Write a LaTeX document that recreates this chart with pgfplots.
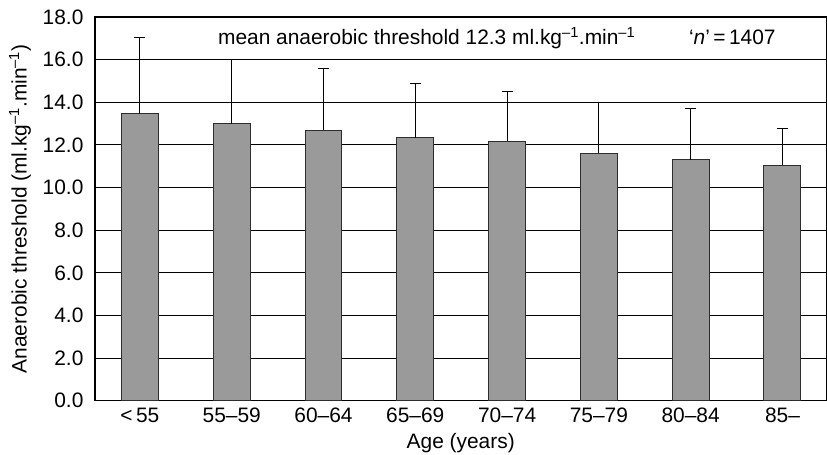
\documentclass[border=0pt]{standalone}
\usepackage{fontspec}
\setmainfont{Liberation Sans}
\usepackage{pgfplots}
\usepackage{pgfplotstable}
\pgfplotsset{compat=1.18}

% Age group index, mean anaerobic threshold, upper SD
\pgfplotstableread{
x y err
0 13.45 3.58
1 12.99 3.01
2 12.69 2.91
3 12.33 2.53
4 12.16 2.34
5 11.61 2.39
6 11.31 2.38
7 11.05 1.70
}\atdata

\definecolor{bargray}{RGB}{154,154,154}
\definecolor{baredge}{RGB}{45,45,45}

\begin{document}
\begin{tikzpicture}
\begin{axis}[
  scale only axis,
  width=732bp, height=384bp,
  ybar, bar width=37bp,
  xmin=-0.49, xmax=7.48,
  ymin=0, ymax=18,
  xtick={0,...,7},
  xticklabels={{<\,55},{55--59},{60--64},{65--69},{70--74},{75--79},{80--84},{85--}},
  ytick={0,2,...,18},
  ymajorgrids,
  grid style={black, line width=0.9bp},
  major tick length=0pt,
  axis line style={black, line width=1.2bp},
  font=\fontsize{21}{25}\selectfont,
  /pgf/number format/assume math mode=true,
  yticklabel style={xshift=-8bp, /pgf/number format/.cd, fixed, fixed zerofill, precision=1},
  xticklabel style={yshift=-4bp},
  xlabel={Age (years)},
  ylabel={Anaerobic threshold (ml.kg\textsuperscript{--1}.min\textsuperscript{--1})},
  xlabel style={yshift=-3bp},
  ylabel style={yshift=5bp},
]
\coordinate (bl) at (rel axis cs:0,0);
\coordinate (tr) at (rel axis cs:1,1);
\addplot[
  fill=bargray, draw=baredge, line width=1bp,
  error bars/.cd, y dir=plus, y explicit,
  error bar style={black, line width=0.9bp},
  error mark options={rotate=90, black, line width=0.9bp, mark size=5.5bp},
] table[x=x, y=y, y error=err] {\atdata};
\node[anchor=base west, font=\fontsize{21}{25}\selectfont, inner sep=0pt]
  at (axis cs:0.85,16.69)
  {mean anaerobic threshold 12.3 ml.kg\textsuperscript{--1}.min\textsuperscript{--1}};
\node[anchor=base west, font=\fontsize{21}{25}\selectfont, inner sep=0pt]
  at (axis cs:5.98,16.69)
  {‘\textit{n}’\,=\,1407};
\end{axis}
\pgfresetboundingbox
\path[use as bounding box] (bl) ++(-95bp,-54bp) rectangle ([shift={(0.5bp,17bp)}]tr);
\end{tikzpicture}
\end{document}
